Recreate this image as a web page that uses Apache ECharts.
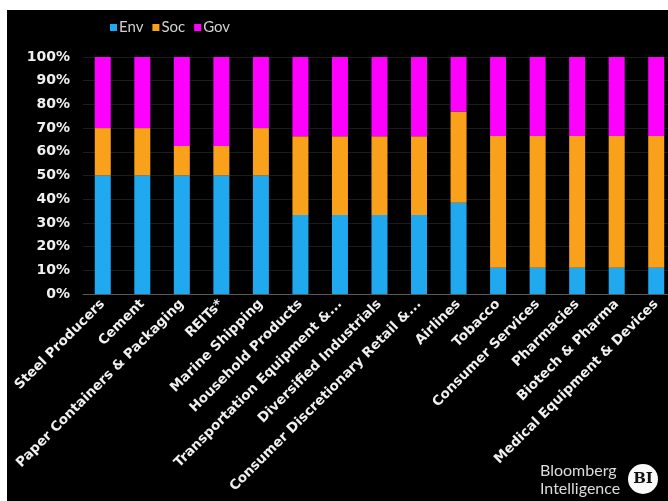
<!DOCTYPE html>
<html>
<head>
<meta charset="utf-8">
<script src="https://cdn.jsdelivr.net/npm/echarts@6/dist/echarts.min.js"></script>
<style>
html,body{margin:0;padding:0;background:#fff;}
#bg{position:absolute;left:7px;top:10px;width:661px;height:491px;background:#000;}
#chart{position:absolute;left:0;top:0;width:668px;height:501px;}
</style>
</head>
<body>
<div id="bg"></div>
<div id="chart"></div>
<script>
const categories = ["Steel Producers","Cement","Paper Containers & Packaging","REITs*","Marine Shipping","Household Products","Transportation Equipment &...","Diversified Industrials","Consumer Discretionary Retail &...","Airlines","Tobacco","Consumer Services","Pharmacies","Biotech & Pharma","Medical Equipment & Devices"];
const env = [50,50,50,50,50,33.3,33.3,33.3,33.3,38.5,11.1,11.1,11.1,11.1,11.1];
const soc = [20,20,12.5,12.5,20,33.3,33.3,33.3,33.3,38.5,55.6,55.6,55.6,55.6,55.6];
const gov = [30,30,37.5,37.5,30,33.4,33.4,33.4,33.4,23,33.3,33.3,33.3,33.3,33.3];
const yTicks = [0,10,20,30,40,50,60,70,80,90,100];

const chart = echarts.init(document.getElementById('chart'), null, {renderer:'canvas'});
const barW = 16;
const mk = (name, data, color) => ({
  name, type:'bar', stack:'total', data, barWidth:barW,
  itemStyle:{color}, emphasis:{disabled:true}
});
chart.setOption({
  backgroundColor:'transparent',
  animation:false,
  legend:{
    left:105, top:15, itemWidth:7, itemHeight:7, itemGap:9,
    icon:'rect',
    textStyle:{color:'#d0d0d0', fontFamily:'Lato', fontSize:15, padding:[0,0,0,-3]},
    data:['Env','Soc','Gov']
  },
  grid:{left:83, width:593, top:57, bottom:207, containLabel:false, outerBoundsMode:'none'},
  xAxis:{
    type:'category', data:categories,
    axisLine:{lineStyle:{color:'#5a5a5a', width:1}},
    axisTick:{show:false},
    axisLabel:{interval:0, rotate:45, color:'#f0f0f0', fontFamily:'DejaVu Sans', fontWeight:'bold', fontSize:13.5, margin:8}
  },
  yAxis:{
    type:'value', min:0, max:100, interval:10,
    axisLine:{show:false}, axisTick:{show:false},
    splitLine:{lineStyle:{color:'#1c1c1c'}},
    axisLabel:{formatter:v => yTicks.includes(v) ? v + '%' : '', color:'#f0f0f0', fontFamily:'DejaVu Sans', fontWeight:'bold', fontSize:14, margin:13}
  },
  series:[mk('Env',env,'#21a9f0'), mk('Soc',soc,'#f9a11b'), mk('Gov',gov,'#fe00fe')],
  graphic:[
    {type:'text', left:540, top:463, style:{text:'Bloomberg', fill:'#dcdcdc', font:'16px Lato'}},
    {type:'text', left:540, top:481, style:{text:'Intelligence', fill:'#dcdcdc', font:'16px Lato'}},
    {type:'circle', shape:{cx:643, cy:479, r:15}, style:{fill:'#fafafa'}},
    {type:'text', x:643, y:479, style:{text:'BI', fill:'#111', font:'bold 15px "DejaVu Serif"', align:'center', verticalAlign:'middle'}}
  ]
});
</script>
</body>
</html>
